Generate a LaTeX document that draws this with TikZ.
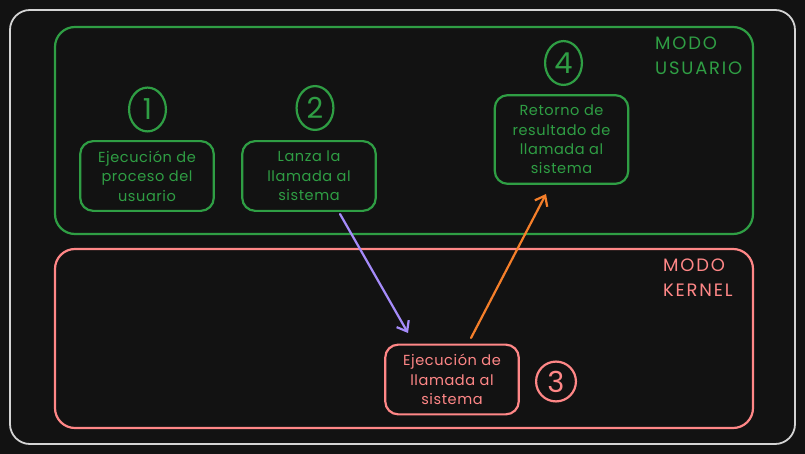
\documentclass[tikz,border=0pt]{standalone}
\usepackage{fontspec}
\setmainfont{Poppins}
\usetikzlibrary{arrows.meta,shapes.geometric}
\definecolor{bg}{HTML}{121212}
\definecolor{frame}{HTML}{D4D4D4}
\definecolor{ugreen}{HTML}{2F9E44}
\definecolor{kred}{HTML}{FF8787}
\definecolor{purp}{HTML}{A58BFA}
\definecolor{orng}{HTML}{F57F2A}
\tikzset{
  zone/.style={line width=2.2bp, rounded corners=20},
  stepbox/.style={draw, line width=2.2bp, rounded corners=13, minimum width=134, minimum height=70, align=center, inner sep=1pt, font=\fontsize{14.6}{19.5}\selectfont\addfontfeature{LetterSpace=4}},
  num/.style={draw, ellipse, line width=2.2bp, minimum width=37, minimum height=44, inner sep=0pt, font=\fontsize{29}{29}\selectfont},
  lbl/.style={anchor=north west, align=left, inner sep=0pt, font=\fontsize{18}{25}\selectfont\addfontfeature{LetterSpace=10}},
  arr/.style={line width=2.2bp, -{Straight Barb[length=9pt,width=14pt,line width=2.2bp]}, line cap=round},
}
\begin{document}
\begin{tikzpicture}[x=1bp,y=-1bp]
\useasboundingbox (0,0) rectangle (805,454);
\fill[bg] (0,0) rectangle (805,454);
\draw[frame, line width=1.8bp, rounded corners=20] (10,10) rectangle (795,444);
\draw[ugreen, zone] (55,27) rectangle (753,234);
\draw[kred, zone] (55,249) rectangle (753,428);
\node[lbl, text=ugreen] (mu) at (655,37) {MODO\\USUARIO};
\node[lbl, text=kred] (mk) at (663,259) {MODO\\KERNEL};
\node[stepbox, ugreen] (b1) at (147,176) {Ejecución de\\proceso del\\usuario};
\node[stepbox, ugreen] (b2) at (309,176) {Lanza la\\llamada al\\sistema};
\node[stepbox, ugreen, minimum height=89] (b4) at (561.5,139.5) {Retorno de\\resultado de\\llamada al\\sistema};
\node[stepbox, kred] (b3) at (452,379.5) {Ejecución de\\llamada al\\sistema};
\node[num, ugreen] (n1) at (147.5,109.5) {1};
\node[num, ugreen] (n2) at (315,108) {2};
\node[num, ugreen] (n4) at (563.5,63) {4};
\node[num, kred, minimum width=40, minimum height=40] (n3) at (556,381.5) {3};
\coordinate (p1) at (340,214);
\coordinate (p2) at (408,333);
\coordinate (o1) at (471,338);
\coordinate (o2) at (546,194);
\draw[arr, purp] (p1) -- (p2);
\draw[arr, orng] (o1) -- (o2);
\end{tikzpicture}
\end{document}
